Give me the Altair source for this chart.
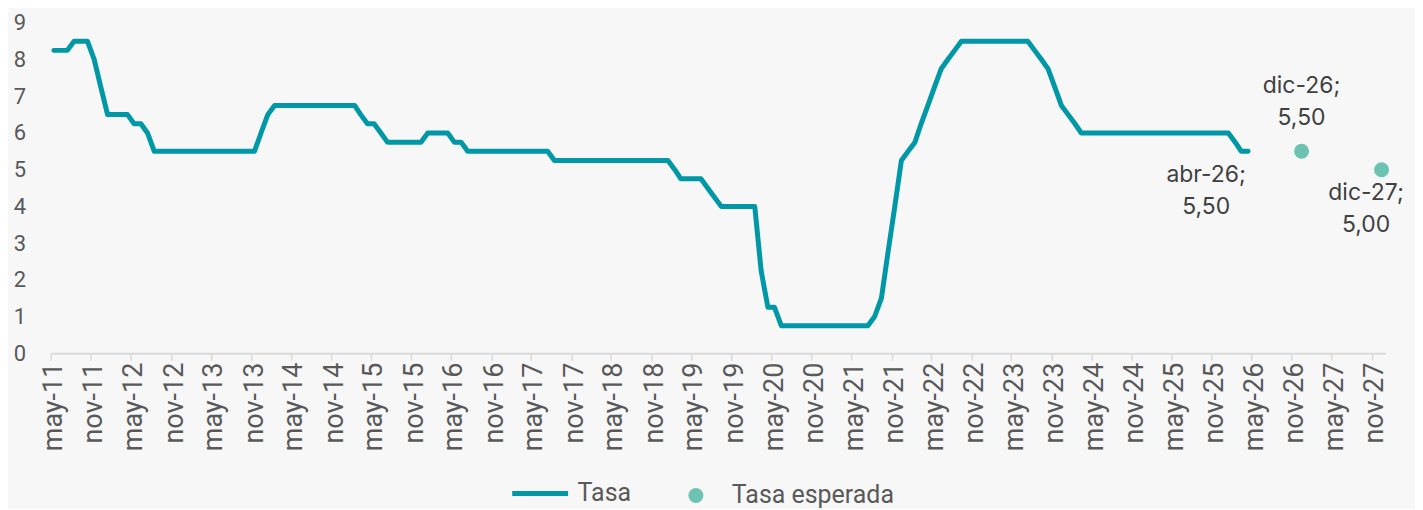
import altair as alt
import pandas as pd

# Monthly policy rate, may-2011 .. apr-2026
tasa_2011 = [8.25, 8.25, 8.25, 8.5, 8.5, 8.5, 8.0, 7.25]            # may..dic
tasa_2012 = [6.5, 6.5, 6.5, 6.5, 6.25, 6.25, 6.0, 5.5, 5.5, 5.5, 5.5, 5.5]
tasa_2013 = [5.5, 5.5, 5.5, 5.5, 5.5, 5.5, 5.5, 5.5, 5.5, 5.5, 5.5, 6.0]
tasa_2014 = [6.5, 6.75, 6.75, 6.75, 6.75, 6.75, 6.75, 6.75, 6.75, 6.75, 6.75, 6.75]
tasa_2015 = [6.75, 6.75, 6.5, 6.25, 6.25, 6.0, 5.75, 5.75, 5.75, 5.75, 5.75, 5.75]
tasa_2016 = [6.0, 6.0, 6.0, 6.0, 5.75, 5.75, 5.5, 5.5, 5.5, 5.5, 5.5, 5.5]
tasa_2017 = [5.5, 5.5, 5.5, 5.5, 5.5, 5.5, 5.5, 5.25, 5.25, 5.25, 5.25, 5.25]
tasa_2018 = [5.25, 5.25, 5.25, 5.25, 5.25, 5.25, 5.25, 5.25, 5.25, 5.25, 5.25, 5.25]
tasa_2019 = [5.25, 5.0, 4.75, 4.75, 4.75, 4.75, 4.5, 4.25, 4.0, 4.0, 4.0, 4.0]
tasa_2020 = [4.0, 4.0, 2.25, 1.25, 1.25, 0.75, 0.75, 0.75, 0.75, 0.75, 0.75, 0.75]
tasa_2021 = [0.75, 0.75, 0.75, 0.75, 0.75, 0.75, 0.75, 1.0, 1.5, 2.75, 4.0, 5.25]
tasa_2022 = [5.5, 5.75, 6.25, 6.75, 7.25, 7.75, 8.0, 8.25, 8.5, 8.5, 8.5, 8.5]
tasa_2023 = [8.5, 8.5, 8.5, 8.5, 8.5, 8.5, 8.5, 8.25, 8.0, 7.75, 7.25, 6.75]
tasa_2024 = [6.5, 6.25, 6.0, 6.0, 6.0, 6.0, 6.0, 6.0, 6.0, 6.0, 6.0, 6.0]
tasa_2025 = [6.0, 6.0, 6.0, 6.0, 6.0, 6.0, 6.0, 6.0, 6.0, 6.0, 6.0, 6.0]
tasa_2026 = [6.0, 5.75, 5.5, 5.5]                                     # ene..abr

tasa = (tasa_2011 + tasa_2012 + tasa_2013 + tasa_2014 + tasa_2015 + tasa_2016
        + tasa_2017 + tasa_2018 + tasa_2019 + tasa_2020 + tasa_2021 + tasa_2022
        + tasa_2023 + tasa_2024 + tasa_2025 + tasa_2026)

# month categories (plotted at mid-month)
meses = [f"{2011 + (4 + k) // 12}/{(4 + k) % 12 + 1:02d}/16" for k in range(len(tasa))]

esperada_fechas = ["2026/12/16", "2027/12/16"]
esperada_valores = [5.50, 5.00]

etiquetas = ["abr-26;\n5,50", "dic-26;\n5,50", "dic-27;\n5,00"]
claves = ["abr26", "dic26", "dic27"]

anios_ticks = list(range(2011, 2028))
meses_ticks = [5, 11]

LINE = "#0098A7"
DOT = "#6DC3B1"
GRAY = "#595959"

df_line = pd.DataFrame({"fecha": meses, "tasa": tasa, "serie": ["Tasa"] * len(tasa)})
df_pts = pd.DataFrame({"fecha": esperada_fechas, "tasa": esperada_valores,
                       "serie": ["Tasa esperada"] * len(esperada_valores)})
df_lab = pd.DataFrame({"fecha": [meses[-1]] + esperada_fechas,
                       "tasa": [tasa[-1]] + esperada_valores,
                       "texto": etiquetas, "clave": claves})

tick_values = [alt.DateTime(year=y, month=m, date=1) for y in anios_ticks for m in meses_ticks]

x_enc = alt.X(
    "fecha:T",
    scale=alt.Scale(domain=[alt.DateTime(year=2011, month=5, date=1),
                            alt.DateTime(year=2028, month=1, date=1)]),
    axis=alt.Axis(
        title=None,
        values=tick_values,
        labelExpr="(month(datum.value) == 4 ? 'may-' : 'nov-') + timeFormat(datum.value, '%y')",
        labelAngle=-90,
        labelFont="Roboto",
        labelFontSize=27,
        labelColor=GRAY,
        labelPadding=2,
        labelOffset=3,
        labelOverlap=False,
        domainColor="#D9D9D9",
        domainWidth=2,
        tickColor="#D9D9D9",
        tickWidth=1.5,
        tickSize=7,
        grid=False,
    ),
)
y_enc = alt.Y(
    "tasa:Q",
    scale=alt.Scale(domain=[0, 9], nice=False, zero=True),
    axis=alt.Axis(
        title=None,
        values=list(range(10)),
        labelFont="Roboto",
        labelFontSize=22,
        labelColor=GRAY,
        labelPadding=25,
        domain=False,
        ticks=False,
        grid=False,
    ),
)

line = alt.Chart(df_line).mark_line(
    strokeWidth=5, strokeJoin="round", strokeCap="round"
).encode(
    x=x_enc,
    y=y_enc,
    stroke=alt.Stroke(
        "serie:N",
        scale=alt.Scale(domain=["Tasa"], range=[LINE]),
        legend=alt.Legend(
            title=None, orient="none", legendX=460, legendY=441,
            symbolType="stroke", symbolSize=3136, symbolStrokeWidth=5,
            labelFont="Roboto", labelFontSize=25, labelColor=GRAY,
            labelOffset=7, labelLimit=0, padding=0,
        ),
    ),
)

pts = alt.Chart(df_pts).mark_circle(size=225, opacity=1).encode(
    x=x_enc,
    y=y_enc,
    fill=alt.Fill(
        "serie:N",
        scale=alt.Scale(domain=["Tasa esperada"], range=[DOT]),
        legend=alt.Legend(
            title=None, orient="none", legendX=634, legendY=461,
            symbolType="circle", symbolSize=225, symbolStrokeWidth=0,
            labelFont="Roboto", labelFontSize=25, labelColor=GRAY,
            labelOffset=23.5, labelLimit=0, padding=0,
        ),
    ),
)

def etiqueta(clave, dx, dy):
    return alt.Chart(df_lab).transform_filter(
        alt.datum.clave == clave
    ).mark_text(
        align="center", baseline="alphabetic", dx=dx, dy=dy,
        lineBreak="\n", lineHeight=31.5, font="Inter", fontSize=23, color="#404040",
    ).encode(x=x_enc, y=y_enc, text="texto:N")

chart = alt.layer(
    line, pts,
    etiqueta("abr26", -42, 31),
    etiqueta("dic26", 0, -58),
    etiqueta("dic27", -15.5, 30.5),
).properties(
    width=1337,
    height=331,
    autosize=alt.AutoSizeParams(type="none"),
    padding={"left": 42.7, "top": 14.4, "right": 30, "bottom": 156},
    background="#F7F7F7",
).configure_view(stroke=None)

chart.save("out.html", embed_options={"renderer": "svg", "actions": False})
